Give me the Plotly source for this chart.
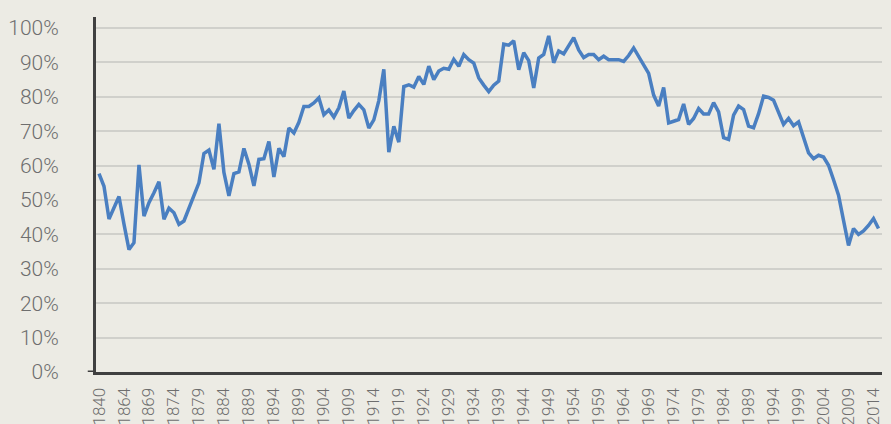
import plotly.graph_objects as go

# Categories: 1840, then 1860..2015
years = ["1840"] + [str(y) for y in range(1860, 2016)]

# Values in percent
share = [
    57.7, 54.0, 44.5, 48.0, 51.0, 43.0, 35.6, 37.6, 60.2, 45.3,
    49.2, 52.1, 55.3, 44.4, 47.6, 46.3, 42.9, 43.9, 47.8, 51.5,
    55.0, 63.5, 64.5, 58.9, 72.2, 58.0, 51.2, 57.7, 58.2, 65.0,
    60.4, 54.1, 61.8, 62.0, 67.0, 56.7, 65.0, 62.6, 70.9, 69.5,
    72.6, 77.2, 77.2, 78.2, 79.7, 74.8, 76.2, 74.1, 76.8, 81.7,
    73.8, 76.0, 77.8, 76.2, 70.9, 73.3, 78.9, 88.0, 63.9, 71.4,
    66.8, 83.0, 83.5, 82.8, 85.9, 83.6, 88.9, 85.0, 87.5, 88.3,
    88.0, 90.9, 88.9, 92.3, 90.8, 89.8, 85.5, 83.4, 81.5, 83.4,
    84.6, 95.3, 95.0, 96.3, 87.9, 92.8, 90.5, 82.6, 91.3, 92.3,
    97.7, 89.9, 93.3, 92.5, 95.0, 97.2, 93.6, 91.4, 92.3, 92.3,
    90.8, 91.8, 90.8, 90.8, 90.8, 90.3, 92.0, 94.2, 91.8, 89.2,
    86.8, 80.5, 77.3, 82.7, 72.4, 72.9, 73.4, 77.9, 72.0, 73.7,
    76.6, 75.0, 75.0, 78.3, 75.6, 68.1, 67.6, 74.7, 77.3, 76.3,
    71.5, 71.0, 75.1, 80.2, 79.8, 79.0, 75.6, 72.0, 73.7, 71.6,
    72.7, 68.2, 63.7, 62.0, 63.0, 62.5, 60.1, 55.9, 51.4, 44.1,
    36.8, 41.7, 40.0, 41.0, 42.6, 44.6, 41.7,
]

tick_labels = years[::5]
y_ticks = list(range(0, 101, 10))

BG = "#ECEBE4"
AXIS = "#404040"
GRID = "#D0D0CB"
TXT = "#6E6E6E"
LINE = "#4A7FC1"
FONT = "Roboto"

fig = go.Figure()
fig.add_trace(go.Scatter(
    x=years, y=share, mode="lines",
    line=dict(color=LINE, width=3.5),
    hoverinfo="x+y",
))

fig.update_layout(
    width=891, height=424,
    margin=dict(l=96, r=9, t=17, b=52, autoexpand=False),
    paper_bgcolor=BG, plot_bgcolor=BG,
    showlegend=False,
    font=dict(family=FONT, color=TXT, weight=300),
)

fig.update_xaxes(
    type="category", automargin=False,
    range=[-0.6, len(years) - 1 + 0.7],
    tickmode="array", tickvals=tick_labels, ticktext=tick_labels,
    tickangle=-90,
    tickfont=dict(family=FONT, size=17, color=TXT, weight=300),
    showgrid=False, zeroline=False,
    showline=True, linecolor=AXIS, linewidth=3,
    ticks="", ticklabelstandoff=6,
)

fig.update_yaxes(
    automargin=False,
    range=[0, 103.2],
    tickmode="array", tickvals=y_ticks, ticktext=[f"{v}%" for v in y_ticks],
    tickfont=dict(family=FONT, size=21, color=TXT, weight=300),
    showgrid=True, gridcolor=GRID, gridwidth=1.5,
    zeroline=False,
    showline=True, linecolor=AXIS, linewidth=3,
    ticks="", ticklabelstandoff=30,
)

fig.add_shape(type="line", xref="paper", yref="y",
              x0=-0.0105, x1=0, y0=0, y1=0,
              line=dict(color=AXIS, width=3))

fig.write_html(
    "out.html",
    config={"displayModeBar": False},
    post_script="document.body.style.margin='0';document.body.style.background='#ECEBE4';",
)
